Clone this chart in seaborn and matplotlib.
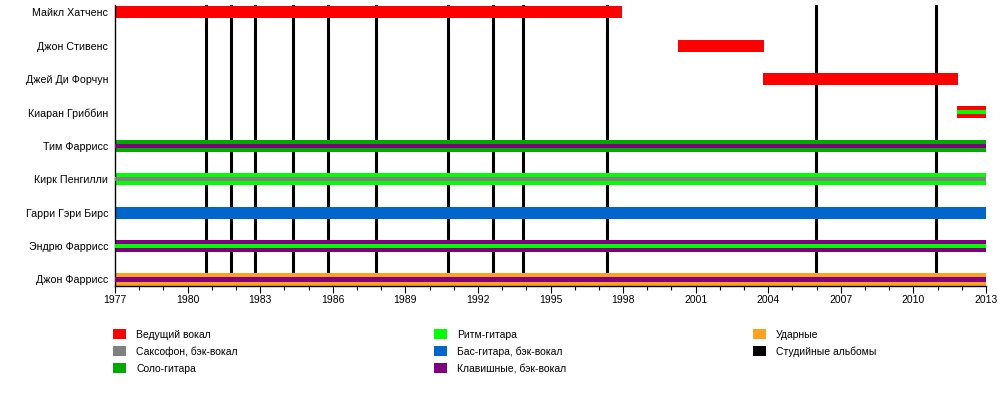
import matplotlib
matplotlib.use("Agg")
import matplotlib.pyplot as plt
from matplotlib.patches import Patch
from matplotlib.ticker import MultipleLocator
import numpy as np
import pandas as pd
import seaborn as sns

# band members, top to bottom
members = ["Майкл Хатченс", "Джон Стивенс", "Джей Ди Форчун", "Киаран Гриббин",
           "Тим Фаррисс", "Кирк Пенгилли", "Гарри Гэри Бирс", "Эндрю Фаррисс",
           "Джон Фаррисс"]
start = [1977, 2000.27, 2003.8, 2011.8, 1977, 1977, 1977, 1977, 1977]
end = [1997.95, 2003.83, 2011.85, 2013, 2013, 2013, 2013, 2013, 2013]
main_role = ["vocal", "vocal", "vocal", "vocal", "lead", "rhythm", "bass", "keys", "drums"]
stripe_role = [None, None, None, "rhythm", "keys", "sax", None, "rhythm", "keys"]

# studio albums
albums = [1980.76, 1981.8, 1982.8, 1984.36, 1985.8, 1987.8, 1990.77,
          1992.63, 1993.87, 1997.34, 2005.98, 2010.94]

roles = ["vocal", "sax", "lead", "rhythm", "bass", "keys", "drums", "albums"]
role_labels = ["Ведущий вокал", "Саксофон, бэк-вокал", "Соло-гитара",
               "Ритм-гитара", "Бас-гитара, бэк-вокал", "Клавишные, бэк-вокал",
               "Ударные", "Студийные альбомы"]
role_colors = {"vocal": "#ff0000", "sax": "#808080", "lead": "#00aa00",
               "rhythm": "#00ff00", "bass": "#0066cc", "keys": "#800080",
               "drums": "#ffa020", "albums": "#000000"}

df = pd.DataFrame({"member": members, "start": start, "end": end,
                   "main": main_role, "stripe": stripe_role})

sns.set_theme(style="white")
plt.rcParams["font.family"] = ["Liberation Sans", "DejaVu Sans"]
plt.rcParams.update({"text.color": "black", "axes.labelcolor": "black",
                     "xtick.color": "black", "ytick.color": "black"})

fig = plt.figure(figsize=(10, 3.95), dpi=100)
ax = fig.add_axes([0.115, 0.276, 0.871, 0.711])

for yr in albums:
    ax.axvline(yr, color="black", lw=2.2, zorder=1)

ypos = np.arange(len(df))
ax.barh(ypos, df["end"] - df["start"], left=df["start"], height=0.36,
        color=[role_colors[r] for r in df["main"]], linewidth=0, zorder=2)
has = df["stripe"].notna()
ax.barh(ypos[has], (df["end"] - df["start"])[has], left=df["start"][has], height=0.12,
        color=[role_colors[r] for r in df["stripe"][has]], linewidth=0, zorder=3)

ax.set_xlim(1977, 2013)
ax.set_ylim(len(df) - 1 + 0.194, -0.209)
ax.set_yticks(ypos)
ax.set_yticklabels(members, fontsize=7.7)
ax.xaxis.set_major_locator(MultipleLocator(3))
ax.xaxis.set_minor_locator(MultipleLocator(1))
ax.tick_params(axis="y", length=0, pad=5)
ax.tick_params(axis="x", which="major", bottom=True, length=5, width=0.8,
               labelsize=7.5, pad=1.5)
ax.tick_params(axis="x", which="minor", bottom=True, length=3, width=0.8)

sns.despine(ax=ax, top=True, right=True)
for s in ["left", "bottom"]:
    ax.spines[s].set_color("black")
    ax.spines[s].set_linewidth(1)

# legend: three columns placed side by side
cols = [[0, 1, 2], [3, 4, 5], [6, 7]]
xs = [0.113, 0.434, 0.753]
for idx, x0 in zip(cols, xs):
    handles = [Patch(facecolor=role_colors[roles[i]], edgecolor="none") for i in idx]
    labels = [role_labels[i] for i in idx]
    fig.legend(handles, labels, loc="upper left", bbox_to_anchor=(x0, 0.167),
               frameon=False, handlelength=1.25, handleheight=1.15,
               handletextpad=0.96, labelspacing=0.6, borderpad=0, borderaxespad=0,
               prop={"size": 7.5}, labelcolor="black")

fig.savefig("out.png", dpi=100)
